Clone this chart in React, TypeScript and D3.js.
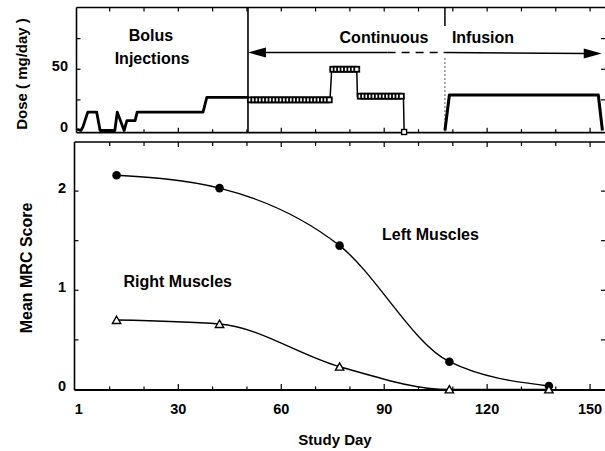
import React from 'react';
import * as d3 from 'd3';

const W = 605;
const H = 451;
const FONT = '"Liberation Sans", Arial, Helvetica, sans-serif';

// MRC visits
const visitDays = [12, 42, 77, 109, 138];
const leftScores = [2.16, 2.03, 1.45, 0.28, 0.035];
const rightScores = [0.7, 0.66, 0.23, 0, 0];

// dose, [study day, mg/day]
const bolusSteps: [number, number][] = [
  [0.5, 1], [1.6, 0], [2.2, 3], [3.6, 15], [6.2, 15], [7.2, 0], [11.5, 0], [12.2, 15],
  [14.2, 0], [15, 8], [17.4, 8], [18, 15], [37.2, 15], [38.3, 27], [50.3, 27],
];
const contSteps: [number, number][] = [
  [50.5, 25], [74.2, 25], [74.7, 50], [82, 50], [82.2, 28], [95.6, 28], [95.8, 0],
];
const contFirstDay = 51;
const contDaily = [
  25, 25, 25, 25, 25, 25, 25, 25, 25, 25, 25, 25, 25, 25, 25, 25, 25, 25, 25, 25, 25, 25, 25, 25,
  50, 50, 50, 50, 50, 50, 50, 50,
  28, 28, 28, 28, 28, 28, 28, 28, 28, 28, 28, 28, 28,
];
const infusionSteps: [number, number][] = [[107.7, 0], [109, 29], [152.4, 29], [153.6, 0]];
const dashedArrowFrom = 91;

const xTicks = [10, 20, 30, 40, 50, 60, 70, 80, 90, 100, 110, 120, 130, 140, 150];
const xLabels = [1, 30, 60, 90, 120, 150];
const doseTicks = [25, 50, 75];
const doseLabels = [0, 50];
const scoreTicks = [0.5, 1, 1.5, 2];
const scoreLabels = [0, 1, 2];

export default function App() {
  const x = d3.scaleLinear().domain([0, 154]).range([75.4, 603.8]);
  const yT = d3.scaleLinear().domain([0, 100]).range([130.5, 8]);
  const yB = d3.scaleLinear().domain([0, 2.5]).range([389.5, 141.5]);

  const topTop = yT(100) - 0.5;
  const topBase = 132.7;
  const botTop = yB(2.5) + 0.5;
  const botBase = 390;
  const right = 604;

  const step = d3.line<[number, number]>().x(d => x(d[0])).y(d => yT(d[1]));
  const curve = d3.line<[number, number]>().x(d => x(d[0])).y(d => yB(d[1])).curve(d3.curveMonotoneX);
  const leftPts = visitDays.map((d, i) => [d, leftScores[i]] as [number, number]);
  const rightPts = visitDays.map((d, i) => [d, rightScores[i]] as [number, number]);
  const tri = d3.symbol().type(d3.symbolTriangle).size(30)() as string;

  const bolusEnd = bolusSteps[bolusSteps.length - 1][0];
  const infStart = infusionSteps[0][0];
  const arrowY = 52.5;
  const tipL = x(bolusEnd);
  const tipR = x(153.4);
  const contStop = contSteps[contSteps.length - 1];

  const text = { fontFamily: FONT, fontWeight: 700, fill: '#000' } as const;

  return (
    <svg width={W} height={H} style={{ position: 'absolute', left: 0, top: 0, background: '#fff' }}>
      {/* ---------- dose panel ---------- */}
      <g stroke="#000" fill="none">
        <line x1={76.5} x2={right + 1} y1={topTop} y2={topTop} strokeWidth={1.5} />
        <line x1={76.5} x2={76.5} y1={topTop} y2={topBase} strokeWidth={1.6} />
        <line x1={76.5} x2={right + 1} y1={topBase} y2={topBase} strokeWidth={1.8} />
        {xTicks.map(t => (
          <g key={t}>
            <line x1={x(t)} x2={x(t)} y1={topTop} y2={topTop + 4} strokeWidth={1.2} />
            <line x1={x(t)} x2={x(t)} y1={topBase} y2={topBase - (t % 30 === 0 ? 5 : 3.5)} strokeWidth={1.2} />
          </g>
        ))}
        {doseTicks.map(t => (
          <g key={t}>
            <line x1={76.5} x2={80.5} y1={yT(t)} y2={yT(t)} strokeWidth={1.2} />
            <line x1={right - 3} x2={right + 1} y1={yT(t)} y2={yT(t)} strokeWidth={1.2} />
          </g>
        ))}
        <line x1={x(bolusEnd)} x2={x(bolusEnd)} y1={topTop} y2={topBase} strokeWidth={1.6} />
        <line x1={x(infStart)} x2={x(infStart)} y1={topTop} y2={26} strokeWidth={1.5} />
        <line x1={x(infStart)} x2={x(infStart)} y1={58} y2={topBase} strokeWidth={0.9} strokeDasharray="2,2" stroke="#444" />

        {/* arrow */}
        <line x1={tipL + 14} x2={x(dashedArrowFrom)} y1={arrowY} y2={arrowY} strokeWidth={1.5} />
        <line x1={x(dashedArrowFrom)} x2={x(infStart)} y1={arrowY} y2={arrowY} strokeWidth={1.5} strokeDasharray="8,6" />
        <line x1={x(infStart)} x2={tipR - 16} y1={arrowY} y2={arrowY + 1} strokeWidth={1.5} />
        <path d={`M${tipL},${arrowY}L${tipL + 18},${arrowY - 5}L${tipL + 18},${arrowY + 5}Z`} fill="#000" stroke="none" />
        <path d={`M${tipR},${arrowY + 1}L${tipR - 18},${arrowY - 4}L${tipR - 18},${arrowY + 6}Z`} fill="#000" stroke="none" />

        <path d={step(bolusSteps) ?? ''} strokeWidth={2.8} strokeLinejoin="round" />
        <path d={step(contSteps) ?? ''} strokeWidth={1.5} />
        <path d={step(infusionSteps) ?? ''} strokeWidth={3} strokeLinejoin="round" />
      </g>
      <g fill="#fff" stroke="#000" strokeWidth={1.8}>
        {contDaily.map((v, i) => (
          <rect key={i} x={x(contFirstDay + i) - 2.5} y={yT(v) - 2.5} width={5} height={5} />
        ))}
        <rect x={x(contStop[0]) - 2.5} y={yT(contStop[1]) - 1} width={5} height={5} strokeWidth={1.4} />
      </g>

      <g {...text} fontSize={16} textAnchor="middle">
        <text x={151} y={40.5}>Bolus</text>
        <text x={152} y={64}>Injections</text>
        <text x={384} y={43.3}>Continuous</text>
        <text x={483} y={43.3}>Infusion</text>
      </g>
      <g {...text} fontSize={14.5} textAnchor="end">
        {doseLabels.map(t => (
          <text key={t} x={68} y={yT(t) + 1.5}>{t}</text>
        ))}
      </g>
      <text {...text} fontSize={15} textAnchor="middle" transform={`translate(27,74) rotate(-90)`}>
        Dose ( mg/day )
      </text>

      {/* ---------- MRC panel ---------- */}
      <g stroke="#000" fill="none">
        <line x1={74.5} x2={right + 1} y1={botTop} y2={botTop} strokeWidth={1.5} />
        <line x1={74.5} x2={74.5} y1={botTop} y2={botBase} strokeWidth={1.6} />
        <line x1={74.5} x2={right + 1} y1={botBase} y2={botBase} strokeWidth={2} />
        {xTicks.map(t => (
          <g key={t}>
            <line x1={x(t)} x2={x(t)} y1={botTop} y2={botTop + (t % 30 === 0 ? 5 : 4)} strokeWidth={1.2} />
            <line x1={x(t)} x2={x(t)} y1={botBase} y2={botBase - (t % 30 === 0 ? 6 : 3.5)} strokeWidth={1.2} />
          </g>
        ))}
        {scoreTicks.map(t => (
          <g key={t}>
            <line x1={74.5} x2={78.5} y1={yB(t)} y2={yB(t)} strokeWidth={1.2} />
            <line x1={right - 3} x2={right + 1} y1={yB(t)} y2={yB(t)} strokeWidth={1.2} />
          </g>
        ))}
        <path d={curve(leftPts) ?? ''} strokeWidth={1.4} />
        <path d={curve(rightPts) ?? ''} strokeWidth={1.5} />
      </g>
      <g fill="#000">
        {leftPts.map((p, i) => (
          <circle key={i} cx={x(p[0])} cy={yB(p[1])} r={4.3} />
        ))}
      </g>
      <g fill="#fff" stroke="#000" strokeWidth={1.4}>
        {rightPts.map((p, i) => (
          <path key={i} d={tri} transform={`translate(${x(p[0])},${yB(p[1]) + 1})`} />
        ))}
      </g>

      <g {...text} fontSize={16}>
        <text x={382} y={239.5}>Left Muscles</text>
        <text x={123.5} y={287}>Right Muscles</text>
      </g>
      <g {...text} fontSize={14.5} textAnchor="end">
        {scoreLabels.map(t => (
          <text key={t} x={66} y={yB(t) + 1.5}>{t}</text>
        ))}
      </g>
      <g {...text} fontSize={14.5} textAnchor="middle">
        {xLabels.map(t => (
          <text key={t} x={x(t)} y={414}>{t}</text>
        ))}
      </g>
      <text {...text} fontSize={16} textAnchor="middle" transform={`translate(31.5,268) rotate(-90)`}>
        Mean MRC Score
      </text>
      <text {...text} fontSize={15} textAnchor="middle" x={335} y={445}>Study Day</text>
    </svg>
  );
}
